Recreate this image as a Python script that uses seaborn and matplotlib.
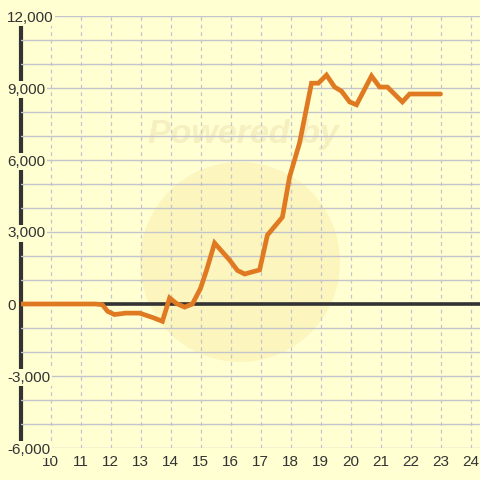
import matplotlib
matplotlib.use("Agg")
import matplotlib.pyplot as plt
import seaborn as sns
import pandas as pd
from matplotlib.patches import Circle

# ---- data ----
x_vals = [9.0, 11.5, 11.73, 11.9, 12.13, 12.5, 12.97, 13.4, 13.73, 13.97,
          14.2, 14.47, 14.73, 15.0, 15.2, 15.47, 15.97, 16.23, 16.47, 16.97,
          17.23, 17.73, 17.97, 18.3, 18.7, 18.93, 19.2, 19.47, 19.7, 19.97,
          20.2, 20.7, 20.97, 21.23, 21.73, 21.97, 23.0]
y_vals = [0, 0, -30, -300, -440, -380, -380, -560, -720, 250,
          20, -130, 0, 650, 1400, 2540, 1830, 1400, 1250, 1420,
          2870, 3620, 5300, 6700, 9200, 9200, 9540, 9040, 8870, 8420,
          8300, 9500, 9040, 9040, 8420, 8750, 8750]
x_ticks = list(range(10, 25))
y_ticks = list(range(-6000, 12001, 1000))
y_labels = [f"{v:,}" if v % 3000 == 0 else "" for v in y_ticks]

BG = "#FFFFD2"
LINE = "#E07A22"
DARK = "#333333"

sns.set_theme(style="white")
plt.rcParams["font.family"] = ["Liberation Sans", "DejaVu Sans"]

fig = plt.figure(figsize=(4.8, 4.8), dpi=100)
fig.patch.set_facecolor(BG)
W = 480
ax = fig.add_axes([20.5 / W, 32 / W, 459.5 / W, 432 / W])
ax.set_facecolor(BG)

# watermark decoration (behind everything in the axes)
circ = Circle((240 / W, (480 - 262) / W), 100 / W, transform=fig.transFigure,
              facecolor="#FCF5BE", edgecolor="none", zorder=0.1)
ax.add_patch(circ)
ax.text(243 / W, (480 - 134) / W, "Powered by", transform=fig.transFigure,
        fontsize=24.5, fontweight="bold", fontstyle="italic", color="#F6EFBF",
        ha="center", va="center", zorder=0.15)

df = pd.DataFrame({"x": x_vals, "y": y_vals})

ax.set_xlim(9, 9 + 459.5 / 30)
ax.set_ylim(-6000, 12000)
ax.set_xticks(x_ticks)
ax.set_yticks(y_ticks)
ax.set_yticklabels(y_labels)

ax.grid(axis="y", color="#C4C4CC", linewidth=1.0, linestyle="-")
ax.grid(axis="x", color="#C4C4CC", linewidth=0.9, linestyle=(0, (3, 3)))
ax.set_axisbelow(True)

ax.axhline(0, color=DARK, linewidth=2.6, zorder=2)
sns.lineplot(data=df, x="x", y="y", ax=ax, color=LINE, linewidth=3.4,
             zorder=3, solid_joinstyle="miter")

for s in ["top", "right", "bottom"]:
    ax.spines[s].set_visible(False)
ax.spines["left"].set_color(DARK)
ax.spines["left"].set_linewidth(3)
ax.spines["left"].set_zorder(0.45)

ax.tick_params(axis="both", length=0, labelsize=11, labelcolor=DARK)
ax.tick_params(axis="y", pad=9.5)
ax.tick_params(axis="x", pad=5)
for lab in ax.get_yticklabels():
    lab.set_horizontalalignment("left")
    lab.set_bbox(dict(facecolor=BG, edgecolor="none", pad=1.0))

ax.set_xlabel("")
ax.set_ylabel("")
fig.savefig("out.png", dpi=100, facecolor=BG)
